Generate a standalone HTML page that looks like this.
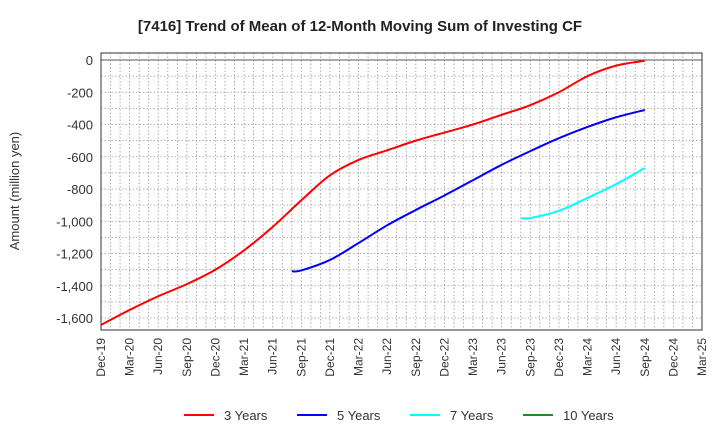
<!DOCTYPE html>
<html><head><meta charset="utf-8"><style>
body{margin:0;background:#fff;font-family:"Liberation Sans",Arial,sans-serif;}
svg text{font-family:"Liberation Sans",Arial,sans-serif;}
</style></head><body>
<svg id="chart" width="720" height="440" xmlns="http://www.w3.org/2000/svg">
<text x="360" y="31" text-anchor="middle" font-size="15" font-weight="bold" fill="#222">[7416]  Trend of Mean of 12-Month Moving Sum of Investing CF</text>
<text transform="translate(19,191) rotate(-90)" text-anchor="middle" font-size="13" fill="#333">Amount (million yen)</text>
<g id="grid"></g><g id="axes"></g><g id="series"></g>
<g>
<line x1="184" y1="415" x2="214" y2="415" stroke="#ff0000" stroke-width="2"/>
<text x="224" y="420" font-size="13" fill="#333">3 Years</text>
<line x1="297" y1="415" x2="327" y2="415" stroke="#0000ff" stroke-width="2"/>
<text x="337" y="420" font-size="13" fill="#333">5 Years</text>
<line x1="410" y1="415" x2="440" y2="415" stroke="#00ffff" stroke-width="2"/>
<text x="450" y="420" font-size="13" fill="#333">7 Years</text>
<line x1="523" y1="415" x2="553" y2="415" stroke="#228b22" stroke-width="2"/>
<text x="563" y="420" font-size="13" fill="#333">10 Years</text>
</g>
</svg>
<script>
const xLabels=["Dec-19","Mar-20","Jun-20","Sep-20","Dec-20","Mar-21","Jun-21","Sep-21","Dec-21","Mar-22","Jun-22","Sep-22","Dec-22","Mar-23","Jun-23","Sep-23","Dec-23","Mar-24","Jun-24","Sep-24","Dec-24","Mar-25"];
const yTicks=[0,-200,-400,-600,-800,-1000,-1200,-1400,-1600];
// month offsets from Dec-19 and values
const s3Months=[0,3,6,9,12,15,18,21,24,27,30,33,36,39,42,45,48,51,54,57];
const s3Values=[-1643,-1550,-1465,-1390,-1300,-1180,-1035,-870,-715,-620,-560,-500,-450,-400,-340,-280,-200,-100,-35,-5];
const s5Months=[20,21,24,27,30,33,36,39,42,45,48,51,54,57];
const s5Values=[-1310,-1305,-1240,-1135,-1025,-930,-840,-745,-650,-565,-485,-415,-355,-310];
const s7Months=[44,45,48,51,54,57];
const s7Values=[-980,-980,-935,-855,-770,-670];
const L=101,R=702,T=53,B=330;
const xs=m=>L+m*(R-L)/63;
const ys=v=>60-v*32.25/200;
const NS="http://www.w3.org/2000/svg";
function mk(tag,attrs,parent){const e=document.createElementNS(NS,tag);for(const k in attrs)e.setAttribute(k,attrs[k]);parent.appendChild(e);return e;}
const grid=document.getElementById('grid'),axes=document.getElementById('axes'),ser=document.getElementById('series');
for(let m=1;m<63;m++){const l=mk('line',{x1:xs(m),x2:xs(m),y1:T,y2:B,stroke:'#999','stroke-width':0.8,'stroke-dasharray':'1.5,2'},grid);

}
for(let v=-1600;v<=0;v+=100){const l=mk('line',{x1:L,x2:R,y1:ys(v),y2:ys(v),stroke:v===0?'#555':'#999','stroke-width':v===0?1:0.8,'stroke-dasharray':v===0?'none':'1.5,2'},grid);

}
const fr=mk('rect',{x:L,y:T,width:R-L,height:B-T,fill:'none',stroke:'#333','stroke-width':1},axes);


yTicks.forEach(v=>{const t=mk('text',{x:L-8,y:ys(v)+5,'text-anchor':'end','font-size':13,fill:'#333'},axes);t.textContent=v===0?'0':v.toLocaleString('en-US');

});
xLabels.forEach((s,i)=>{const x=xs(i*3);const t=mk('text',{transform:`translate(${x+4},${B+8}) rotate(-90)`,'text-anchor':'end','font-size':12,fill:'#333'},axes);t.textContent=s;

});
function path(ms,vs){const p=ms.map((m,i)=>[xs(m),ys(vs[i])]);let d=`M${p[0][0]},${p[0][1]}`;
for(let i=0;i<p.length-1;i++){const p0=p[i-1]||p[i],p1=p[i],p2=p[i+1],p3=p[i+2]||p2;
d+=` C${p1[0]+(p2[0]-p0[0])/6},${p1[1]+(p2[1]-p0[1])/6} ${p2[0]-(p3[0]-p1[0])/6},${p2[1]-(p3[1]-p1[1])/6} ${p2[0]},${p2[1]}`;}return d;}
[[s3Months,s3Values,'#ff0000','line-3-years'],[s5Months,s5Values,'#0000ff','line-5-years'],[s7Months,s7Values,'#00ffff','line-7-years']].forEach(([m,v,c,n])=>{
const p=mk('path',{d:path(m,v),fill:'none',stroke:c,'stroke-width':2},ser);

});
</script>
</body></html>
